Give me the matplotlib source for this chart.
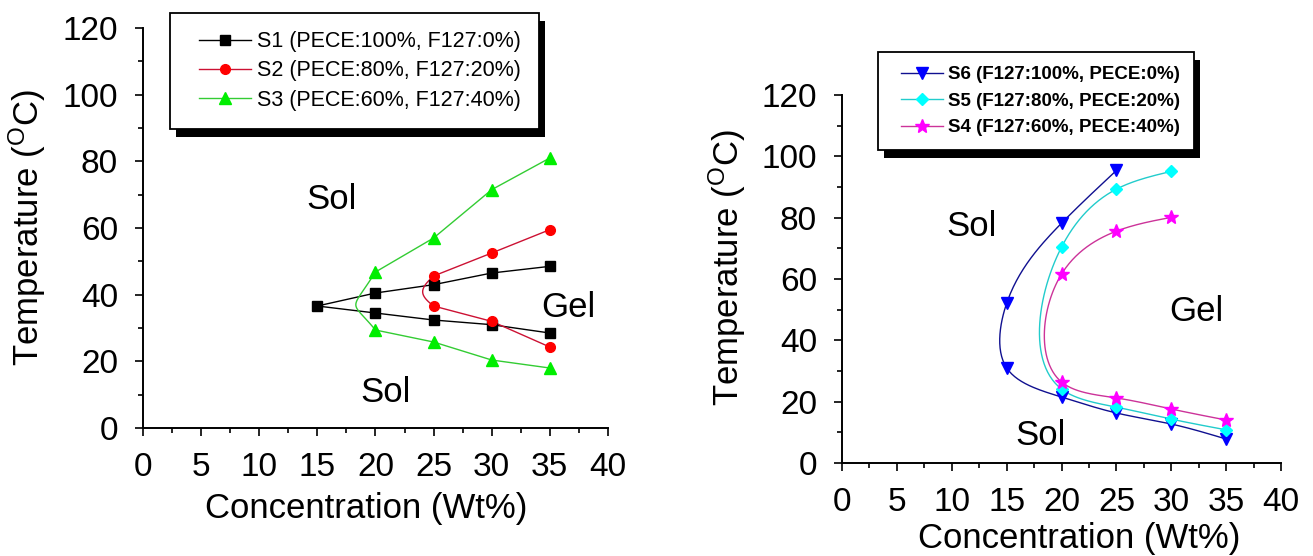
import numpy as np
import matplotlib
matplotlib.use("Agg")
import matplotlib.pyplot as plt
from matplotlib.lines import Line2D
from matplotlib.patches import Rectangle
from matplotlib.transforms import IdentityTransform
from matplotlib.legend_handler import HandlerLine2D
from matplotlib.ticker import MultipleLocator

plt.rcParams['font.family'] = ['Liberation Sans', 'DejaVu Sans']
plt.rcParams['mathtext.default'] = 'regular'

# Left panel: PECE-rich blends (each list runs along the curve, upper branch then lower)
s1_conc = [35, 30, 25, 20, 15, 20, 25, 30, 35]
s1_temp = [48.5, 46.5, 43, 40.5, 36.6, 34.5, 32.4, 31, 28.5]
s2_conc = [35, 30, 25, 25, 30, 35]
s2_temp = [59.5, 52.5, 45.6, 36.6, 32, 24.3]
s3_conc = [35, 30, 25, 20, 20, 25, 30, 35]
s3_temp = [81, 71.5, 57, 46.8, 29.4, 25.8, 20.4, 18]

# Right panel: F127-rich blends
s6_conc = [25, 20, 15, 15, 20, 25, 30, 35]
s6_temp = [95.4, 78.2, 52.1, 31, 21.5, 16.3, 12.7, 7.8]
s5_conc = [30, 25, 20, 20, 25, 30, 35]
s5_temp = [95.1, 89.3, 70.4, 24.1, 18.2, 14.3, 10.8]
s4_conc = [30, 25, 20, 20, 25, 30, 35]
s4_temp = [80.1, 75.6, 61.6, 26.4, 21.2, 17.6, 14]

left_labels = ['S1 (PECE:100%, F127:0%)', 'S2 (PECE:80%, F127:20%)',
               'S3 (PECE:60%, F127:40%)']
right_labels = ['S6 (F127:100%, PECE:0%)', 'S5 (F127:80%, PECE:20%)',
                'S4 (F127:60%, PECE:40%)']


def bent_line(ax, xs, ys, bend):
    # straight segments, with a rounded turn where the curve doubles back
    pts = ax.transData.transform(np.column_stack([xs, ys]))
    n = len(pts)
    out = [pts[:1]]
    for i in range(n - 1):
        p1, p2 = pts[i], pts[i + 1]
        if xs[i] == xs[i + 1] and 0 < i < n - 2:
            c1 = p1 + bend * (p2 - pts[i - 1]) / 3
            c2 = p2 - bend * (pts[i + 2] - p1) / 3
            t = np.linspace(0, 1, 40)[:, None]
            seg = ((1 - t) ** 3 * p1 + 3 * (1 - t) ** 2 * t * c1
                   + 3 * (1 - t) * t ** 2 * c2 + t ** 3 * p2)
            out.append(seg[1:])
        else:
            out.append(p2[None, :])
    return ax.transData.inverted().transform(np.vstack(out))


def spline_line(ax, xs, ys, bend=None):
    # natural cubic spline through the points, chord-length parameter in pixels
    pts = ax.transData.transform(np.column_stack([xs, ys]))
    t = np.concatenate([[0], np.cumsum(np.hypot(*np.diff(pts, axis=0).T))])
    n = len(t)
    h = np.diff(t)
    A = np.zeros((n, n))
    A[0, 0] = A[-1, -1] = 1
    for i in range(1, n - 1):
        A[i, i - 1] = h[i - 1]
        A[i, i] = 2 * (h[i - 1] + h[i])
        A[i, i + 1] = h[i]
    cols = []
    for dim in range(2):
        v = pts[:, dim]
        b = np.zeros(n)
        for i in range(1, n - 1):
            b[i] = 6 * ((v[i + 1] - v[i]) / h[i] - (v[i] - v[i - 1]) / h[i - 1])
        M = np.linalg.solve(A, b)
        seg = []
        for i in range(n - 1):
            tt = np.linspace(t[i], t[i + 1], 30)
            a1 = t[i + 1] - tt
            a2 = tt - t[i]
            seg.append(M[i] * a1 ** 3 / (6 * h[i]) + M[i + 1] * a2 ** 3 / (6 * h[i])
                       + (v[i] / h[i] - M[i] * h[i] / 6) * a1
                       + (v[i + 1] / h[i] - M[i + 1] * h[i] / 6) * a2)
        cols.append(np.concatenate(seg))
    return ax.transData.inverted().transform(np.column_stack(cols))


def style_axes(ax):
    ax.set_xlim(0, 40)
    ax.set_ylim(0, 120)
    ax.spines['top'].set_visible(False)
    ax.spines['right'].set_visible(False)
    for s in ['left', 'bottom']:
        ax.spines[s].set_linewidth(1.4)
    ax.xaxis.set_major_locator(MultipleLocator(5))
    ax.xaxis.set_minor_locator(MultipleLocator(2.5))
    ax.yaxis.set_major_locator(MultipleLocator(20))
    ax.yaxis.set_minor_locator(MultipleLocator(10))
    ax.tick_params(which='major', direction='out', length=6, width=1.2,
                   labelsize=24)
    ax.tick_params(which='minor', direction='out', length=3.5, width=1.2)
    ax.tick_params(axis='x', pad=11)
    ax.tick_params(axis='y', pad=12)
    ax.set_xlabel('Concentration (Wt%)', fontsize=25)
    ax.set_ylabel('Temperature ($^{O}$C)', fontsize=25)


fig = plt.figure(figsize=(13.13, 5.56), dpi=100)
axL = fig.add_axes([0.1089, 0.2302, 0.3541, 0.7194])
axR = fig.add_axes([0.6413, 0.1673, 0.3344, 0.6619])
style_axes(axL)
style_axes(axR)
axL.xaxis.set_label_coords(0.48, -0.16)
axL.yaxis.set_label_coords(-0.205, 0.5)
axR.xaxis.set_label_coords(0.54, -0.16)
axR.yaxis.set_label_coords(-0.215, 0.53)

# (conc, temp, line colour, marker colour, marker, marker size, turn roundness)
left_series = [
    (s1_conc, s1_temp, 'black', 'black', 's', 6.5, 0.7),
    (s2_conc, s2_temp, '#cc1133', '#ff0000', 'o', 7, 0.75),
    (s3_conc, s3_temp, '#33cc33', '#00ee00', '^', 8.5, 1.35),
]
right_series = [
    (s6_conc, s6_temp, '#101090', '#0000ff', 'v', 8, None),
    (s5_conc, s5_temp, '#22cccc', '#00ffff', 'D', 6.5, None),
    (s4_conc, s4_temp, '#cc3399', '#ff00ff', '*', 10, None),
]

fig.canvas.draw()


def draw_panel(ax, series, labels, connect, fsize, weight, anchor, lspace,
               hlen, bpad):
    handles = []
    for (xs, ys, lc, mc, mk, ms, bend), lab in zip(series, labels):
        curve = connect(ax, xs, ys, bend)
        ax.plot(curve[:, 0], curve[:, 1], color=lc, lw=1.0, zorder=2)
        ax.plot(xs, ys, ls='none', marker=mk, ms=ms, mfc=mc, mec=mc, zorder=3)
        handles.append(Line2D([], [], color=lc, lw=1.0, marker=mk, ms=ms,
                              mfc=mc, mec=mc))
    leg = ax.legend(handles, labels, loc='upper left', bbox_to_anchor=anchor,
                    bbox_transform=fig.transFigure, borderaxespad=0,
                    fancybox=False, edgecolor='black', framealpha=1,
                    prop={'size': fsize, 'weight': weight},
                    labelspacing=lspace, handlelength=hlen, handletextpad=0.3,
                    borderpad=bpad,
                    handler_map={Line2D: HandlerLine2D(xpad=0.5)})
    leg.get_frame().set_linewidth(1.3)
    leg.set_zorder(6)
    return leg


legL = draw_panel(axL, left_series, left_labels, bent_line, 15.5, 'normal',
                  (170 / 1313, 1 - 13 / 556), 0.38, 2.9, 0.85)
legR = draw_panel(axR, right_series, right_labels, spline_line, 13.5, 'bold',
                  (878 / 1313, 1 - 52 / 556), 0.5, 2.7, 0.75)

# solid black drop shadow behind each legend box
fig.canvas.draw()
for ax, leg in ((axL, legL), (axR, legR)):
    bb = leg.get_window_extent()
    shadow = Rectangle((bb.x0 + 6, bb.y0 - 8), bb.width, bb.height,
                       facecolor='black', edgecolor='none',
                       transform=IdentityTransform(), zorder=5, clip_on=False)
    ax.add_artist(shadow)

axL.text(16.2, 68.5, 'Sol', fontsize=25, ha='center', va='center')
axL.text(20.9, 10.8, 'Sol', fontsize=25, ha='center', va='center')
axL.text(36.6, 36.3, 'Gel', fontsize=25, ha='center', va='center')
axR.text(11.8, 77, 'Sol', fontsize=25, ha='center', va='center')
axR.text(18.1, 8.9, 'Sol', fontsize=25, ha='center', va='center')
axR.text(32.3, 49.3, 'Gel', fontsize=25, ha='center', va='center')

for ax in (axL, axR):
    for line in ax.lines:
        line.set_clip_on(False)

fig.savefig('out.png', dpi=100)
